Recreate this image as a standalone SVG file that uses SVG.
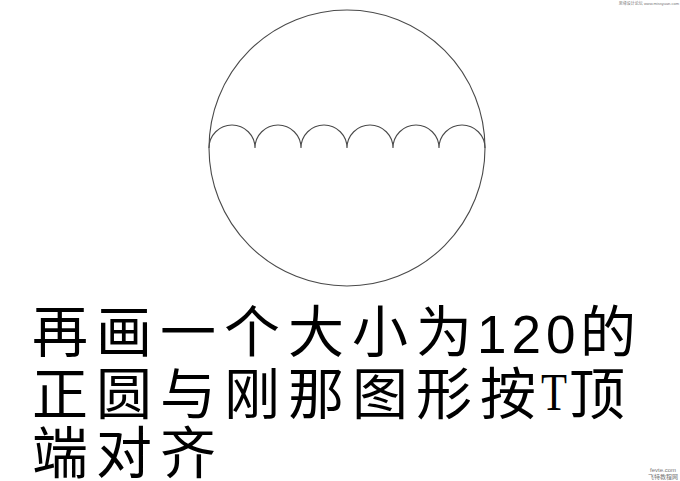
<svg xmlns="http://www.w3.org/2000/svg" width="680" height="481" viewBox="0 0 680 481">
<style>
.ln{fill:none;stroke:#4a4a4a;stroke-width:1.1}
.cj{font-family:"Noto Sans CJK SC","Liberation Sans",sans-serif;font-size:56px;fill:#000}
.num{font-family:"Liberation Sans",sans-serif;font-size:53px;fill:#000}
.tt{font-family:"Liberation Serif",serif;font-size:53px;fill:#000}
.wm{font-family:"Liberation Sans","Noto Sans CJK SC",sans-serif;fill:#777}
</style>
<rect width="680" height="481" fill="#fff"/>
<g id="circle">
<circle class="ln" cx="347" cy="148" r="138"/>
</g>
<g id="scallops">
<path class="ln" d="M209,148 A23,23 0 0 1 255,148 A23,23 0 0 1 301,148 A23,23 0 0 1 347,148 A23,23 0 0 1 393,148 A23,23 0 0 1 439,148 A23,23 0 0 1 485,148"/>
</g>
<g id="caption">
<text class="cj" x="32" y="352" letter-spacing="8">再画一个大小为</text>
<text class="num" x="477" y="353" letter-spacing="5">120</text>
<text class="cj" x="580" y="352">的</text>
<text class="cj" x="32" y="414" letter-spacing="8">正圆与刚那图形按</text>
<text class="tt" x="541" y="410" textLength="26" lengthAdjust="spacingAndGlyphs">T</text>
<text class="cj" x="569" y="414">顶</text>
<text class="cj" x="32" y="473" letter-spacing="8">端对齐</text>
</g>
<g id="watermarks">
<text class="wm" x="679" y="5" font-size="4" text-anchor="end">思缘设计论坛 www.missyuan.com</text>
<text class="wm" x="663" y="472" font-size="6" text-anchor="middle" fill="#333">fevte.com</text>
<text class="wm" x="663" y="479" font-size="6" text-anchor="middle" fill="#333">飞特教程网</text>
</g>
</svg>
